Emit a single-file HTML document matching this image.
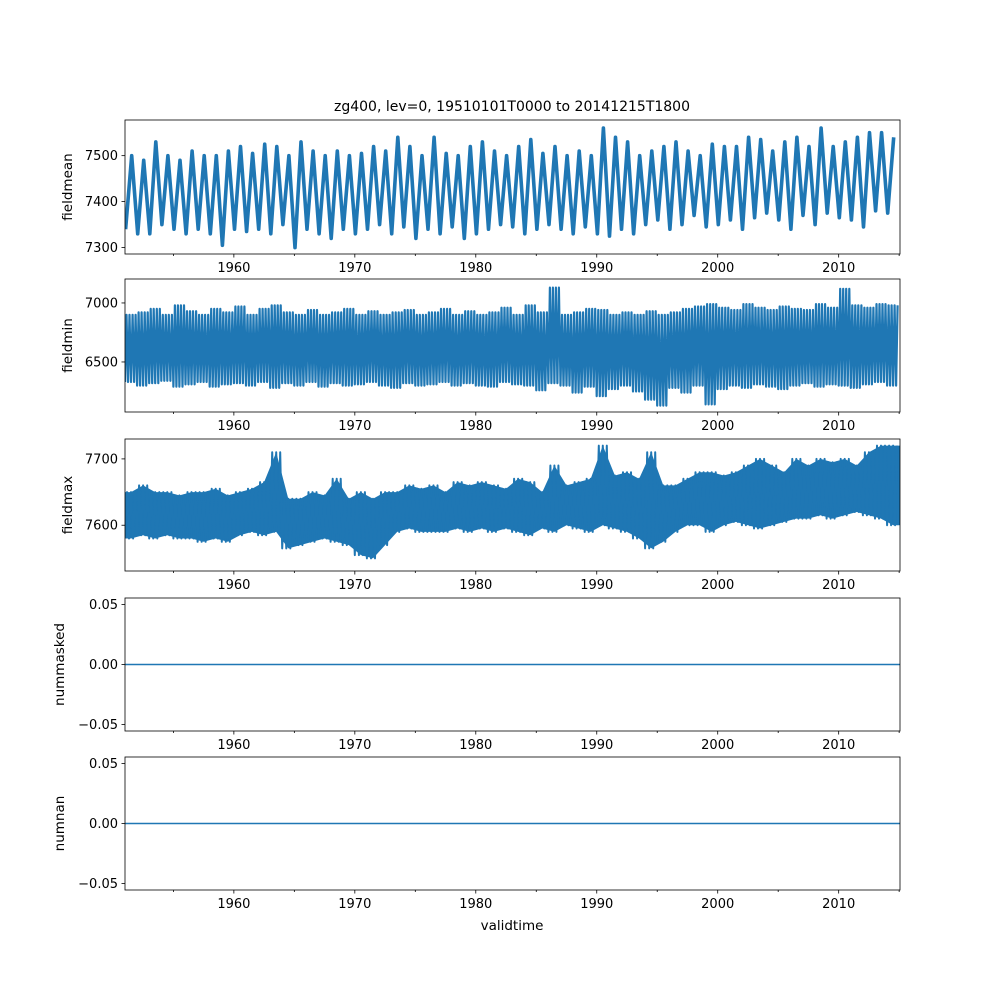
<!DOCTYPE html>
<html><head><meta charset="utf-8">
<style>
html,body{margin:0;padding:0;background:#fff;}
svg{display:block;font-family:"DejaVu Sans","Liberation Sans",sans-serif;}
</style></head>
<body>
<svg id="fig" width="1000" height="1000" viewBox="0 0 1000 1000" xmlns="http://www.w3.org/2000/svg">
<rect width="1000" height="1000" fill="#fff"/>
<text x="512" y="111" font-size="14" text-anchor="middle">zg400, lev=0, 19510101T0000 to 20141215T1800</text>
<text x="512" y="930" font-size="13.5" text-anchor="middle">validtime</text>
</svg>
<script>
const years=[];for(let y=1951;y<=2014;y++)years.push(y);
const xTickLabels=["1960","1970","1980","1990","2000","2010"];
const meanPeak=[7500,7490,7530,7500,7490,7510,7500,7500,7510,7520,7505,7525,7520,7500,7530,7510,7500,7510,7500,7505,7520,7510,7540,7520,7500,7540,7505,7500,7520,7530,7510,7500,7520,7535,7505,7520,7500,7510,7500,7560,7540,7530,7500,7510,7520,7530,7510,7500,7525,7520,7520,7540,7535,7510,7530,7540,7520,7560,7520,7530,7540,7550,7550,7540];
const meanTrough=[7340,7330,7330,7350,7340,7330,7340,7330,7305,7340,7335,7340,7330,7350,7300,7340,7330,7320,7340,7330,7340,7350,7330,7345,7320,7340,7330,7345,7320,7330,7340,7350,7345,7330,7340,7350,7340,7330,7345,7330,7325,7340,7330,7350,7360,7340,7350,7370,7345,7350,7360,7340,7365,7375,7360,7340,7370,7350,7375,7365,7360,7345,7380,7375];
const minHi=[6900,6920,6950,6900,6980,6930,6900,6950,6920,6970,6900,6950,6980,6920,6900,6940,6900,6920,6950,6900,6930,6900,6920,6940,6900,6920,6950,6900,6930,6900,6920,6960,6900,6980,6920,7130,6900,6920,6950,6940,6900,6920,6900,6930,6900,6920,6950,6970,6990,6960,6940,6990,6960,6940,6970,6950,6940,6990,6960,7120,6980,6960,6990,6980];
const minLo=[6330,6300,6320,6340,6290,6310,6330,6290,6310,6320,6300,6330,6280,6320,6300,6330,6290,6320,6300,6310,6330,6300,6280,6320,6300,6310,6330,6300,6320,6300,6290,6330,6310,6300,6260,6320,6300,6240,6290,6210,6270,6300,6250,6180,6130,6280,6240,6300,6140,6270,6300,6280,6310,6290,6270,6300,6320,6290,6310,6300,6280,6310,6330,6300];
const maxHi=[7650,7660,7650,7650,7645,7650,7650,7655,7645,7650,7655,7665,7710,7640,7640,7650,7645,7670,7640,7650,7640,7650,7650,7660,7655,7660,7650,7665,7660,7665,7660,7655,7670,7665,7650,7690,7660,7665,7670,7720,7675,7680,7670,7710,7660,7660,7670,7680,7680,7675,7680,7690,7700,7690,7680,7700,7690,7700,7695,7700,7690,7710,7720,7720];
const maxLo=[7580,7585,7580,7585,7580,7580,7575,7580,7575,7585,7590,7585,7590,7565,7570,7575,7580,7575,7570,7555,7550,7570,7590,7595,7590,7590,7590,7595,7590,7595,7590,7595,7590,7585,7595,7590,7600,7595,7590,7600,7595,7590,7580,7565,7575,7590,7600,7600,7590,7600,7605,7600,7595,7600,7605,7610,7610,7615,7610,7615,7620,7615,7610,7600];
const maskedVals=years.map(()=>0);
const nanVals=years.map(()=>0);

const NS="http://www.w3.org/2000/svg";
const svg=document.getElementById('fig');
const X0=125,X1=900,T0=1951.0,T1=2015.07;
const xs=t=>X0+(t-T0)/(T1-T0)*(X1-X0);
function el(tag,attrs,parent){const e=document.createElementNS(NS,tag);for(const k in attrs)e.setAttribute(k,attrs[k]);(parent||svg).appendChild(e);return e;}
const fmtPts=pts=>pts.map(q=>q[0].toFixed(1)+','+q[1].toFixed(1)).join(' ');

const panels=[
 {name:'fieldmean',top:120,bot:254,lo:7286,hi:7577.6,ticks:[7300,7400,7500],fmt:v=>String(v)},
 {name:'fieldmin',top:279,bot:412,lo:6076,hi:7203,ticks:[6500,7000],fmt:v=>String(v)},
 {name:'fieldmax',top:439,bot:571,lo:7531,hi:7730,ticks:[7600,7700],fmt:v=>String(v)},
 {name:'nummasked',top:598,bot:731,lo:-0.0554,hi:0.0554,ticks:[-0.05,0,0.05],fmt:v=>v.toFixed(2).replace('-','\u2212')},
 {name:'numnan',top:757,bot:890,lo:-0.0554,hi:0.0554,ticks:[-0.05,0,0.05],fmt:v=>v.toFixed(2).replace('-','\u2212')}
];

panels.forEach((p,pi)=>{
 const g=el('g',{});
 
 
 const ys=v=>p.bot-(v-p.lo)/(p.hi-p.lo)*(p.bot-p.top);
 const cid='clip'+pi;
 const cp=el('clipPath',{id:cid},g);el('rect',{x:X0,y:p.top,width:X1-X0,height:p.bot-p.top},cp);
 let pts=[];let sw=1.5;
 if(pi===0){sw=3.6;years.forEach((y,i)=>{pts.push([xs(y+0.05),ys(meanTrough[i])]);pts.push([xs(y+0.55),ys(meanPeak[i])]);});}
 else if(pi===1){sw=2.2;years.forEach((y,i)=>{for(let k=0;k<8;k++){pts.push([xs(y+k/8),ys(k%2?minHi[i]:minLo[i])]);}});}
 else if(pi===2){
  sw=2;
  const up=years.map((y,i)=>[xs(y+0.5),ys(maxHi[i])]);
  const dn=years.map((y,i)=>[xs(y+0.5),ys(maxLo[i])]).reverse();
  const band=el('polygon',{points:fmtPts([[X0,up[0][1]],...up,[X1,up[up.length-1][1]],[X1,dn[0][1]],...dn,[X0,dn[dn.length-1][1]]]),fill:'#1f77b4','clip-path':'url(#'+cid+')'},g);
  
  
  years.forEach((y,i)=>{for(let k=0;k<6;k++){pts.push([xs(y+k/6),ys(k%2?maxHi[i]:maxLo[i])]);}});
 }
 else {const vals=pi===3?maskedVals:nanVals;years.forEach((y,i)=>pts.push([xs(y),ys(vals[i])]));pts.push([xs(T1),ys(vals[vals.length-1])]);}
 const line=el('polyline',{points:fmtPts(pts),fill:'none',stroke:'#1f77b4','stroke-width':sw,'stroke-linejoin':'round','clip-path':'url(#'+cid+')'},g);
 
 
 const fr=el('rect',{x:X0,y:p.top,width:X1-X0,height:p.bot-p.top,fill:'none',stroke:'#000','stroke-width':0.8},g);
 
 
 p.ticks.forEach(v=>{
  const y=ys(v);
  el('line',{x1:X0-3.5,x2:X0,y1:y,y2:y,stroke:'#000','stroke-width':0.8},g);
  const t=el('text',{x:X0-7,y:y+4.5,'font-size':13,'text-anchor':'end'},g);t.textContent=p.fmt(v);
  
  
 });
 for(let yr=1955;yr<=2015;yr+=5){
  const major=yr%10===0;const x=xs(yr);
  el('line',{x1:x,x2:x,y1:p.bot,y2:p.bot+(major?3.5:2),stroke:'#000','stroke-width':0.8},g);
 }
 xTickLabels.forEach(l=>{
  const t=el('text',{x:xs(+l),y:p.bot+18,'font-size':13,'text-anchor':'middle'},g);t.textContent=l;
  
  
 });
 const cy=(p.top+p.bot)/2;
 const yl=el('text',{x:0,y:0,'font-size':13.5,'text-anchor':'middle',transform:'translate('+(pi>=3?64:72)+','+cy+') rotate(-90)'},g);
 yl.textContent=p.name;
 
 
});
</script>
</body></html>
